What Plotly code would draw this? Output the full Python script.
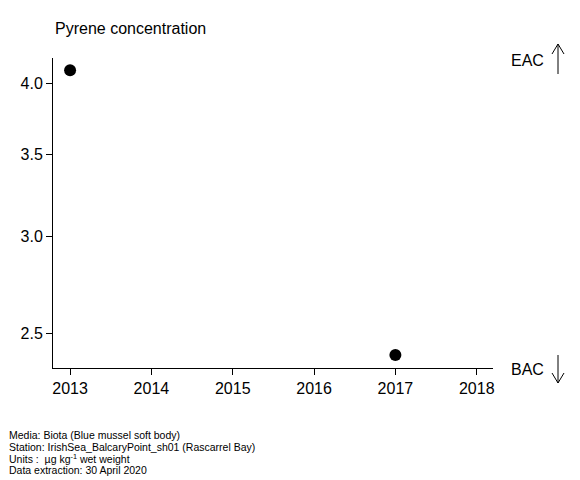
import plotly.graph_objects as go

years = [2013, 2017]
values = [4.10, 2.40]
x_ticks = [2013, 2014, 2015, 2016, 2017, 2018]
y_ticks = [2.5, 3.0, 3.5, 4.0]
y_tick_labels = ["2.5", "3.0", "3.5", "4.0"]
footnotes = [
    "Media: Biota (Blue mussel soft body)",
    "Station: IrishSea_BalcaryPoint_sh01 (Rascarrel Bay)",
    "Units :  µg kg<sup>-1</sup> wet weight",
    "Data extraction: 30 April 2020",
]

FONT = "Liberation Sans, Arial, sans-serif"
W, H = 580, 480
L, R, T, B = 53, 87, 58, 112

fig = go.Figure()
fig.add_trace(go.Scatter(
    x=years, y=values, mode="markers",
    marker=dict(color="black", size=12, symbol="circle"),
    showlegend=False, hoverinfo="skip",
))

fig.update_layout(
    width=W, height=H,
    margin=dict(l=L, r=R, t=T, b=B),
    plot_bgcolor="white", paper_bgcolor="white",
    font=dict(family=FONT, color="black"),
    xaxis=dict(
        range=[2012.79, 2018.2], tickvals=x_ticks, ticktext=[str(t) for t in x_ticks],
        showline=True, linecolor="black", linewidth=1, mirror=False,
        ticks="outside", ticklen=6, tickcolor="black", showgrid=False, zeroline=False,
        tickfont=dict(size=16, family=FONT),
    ),
    yaxis=dict(
        type="log", range=[0.3696, 0.6227], tickvals=y_ticks, ticktext=y_tick_labels,
        showline=True, linecolor="black", linewidth=1,
        ticks="outside", ticklen=6, tickcolor="black", showgrid=False, zeroline=False,
        tickfont=dict(size=16, family=FONT),
    ),
)

annotations = [
    dict(text="Pyrene concentration", xref="paper", yref="paper", x=0, y=1,
         xanchor="left", yanchor="middle", yshift=30, showarrow=False,
         font=dict(size=16, family=FONT)),
    dict(text="EAC", xref="paper", yref="paper", x=1, y=1, xanchor="left", yanchor="middle",
         xshift=16, yshift=-2, showarrow=False, font=dict(size=16, family=FONT)),
    dict(text="BAC", xref="paper", yref="paper", x=1, y=0, xanchor="left", yanchor="middle",
         xshift=16, yshift=-1, showarrow=False, font=dict(size=16, family=FONT)),
]
for i, line in enumerate(footnotes):
    annotations.append(dict(
        text=line, xref="paper", yref="paper", x=0, y=0, xanchor="left", yanchor="middle",
        xshift=-46, yshift=-(67 + 11.7 * i), align="left", showarrow=False,
        font=dict(size=10.5, family=FONT)))
fig.update_layout(annotations=annotations)

def px(xp):
    return (xp - L) / (W - L - R)
def py(yp):
    return (H - B - yp) / (H - T - B)

shapes = []
ax_x = 558
for (y0, y1, up) in [(74, 44, True), (355, 383, False)]:
    shapes.append(dict(type="line", xref="paper", yref="paper",
                       x0=px(ax_x), x1=px(ax_x), y0=py(y0), y1=py(y1),
                       line=dict(color="black", width=1)))
    d = 10 if up else -10
    for sx in (-6, 6):
        shapes.append(dict(type="line", xref="paper", yref="paper",
                           x0=px(ax_x + sx), x1=px(ax_x), y0=py(y1 + d), y1=py(y1),
                           line=dict(color="black", width=1)))
fig.update_layout(shapes=shapes)

fig.write_html("out.html", config={"displayModeBar": False},
               post_script="document.body.style.margin='0px';")
